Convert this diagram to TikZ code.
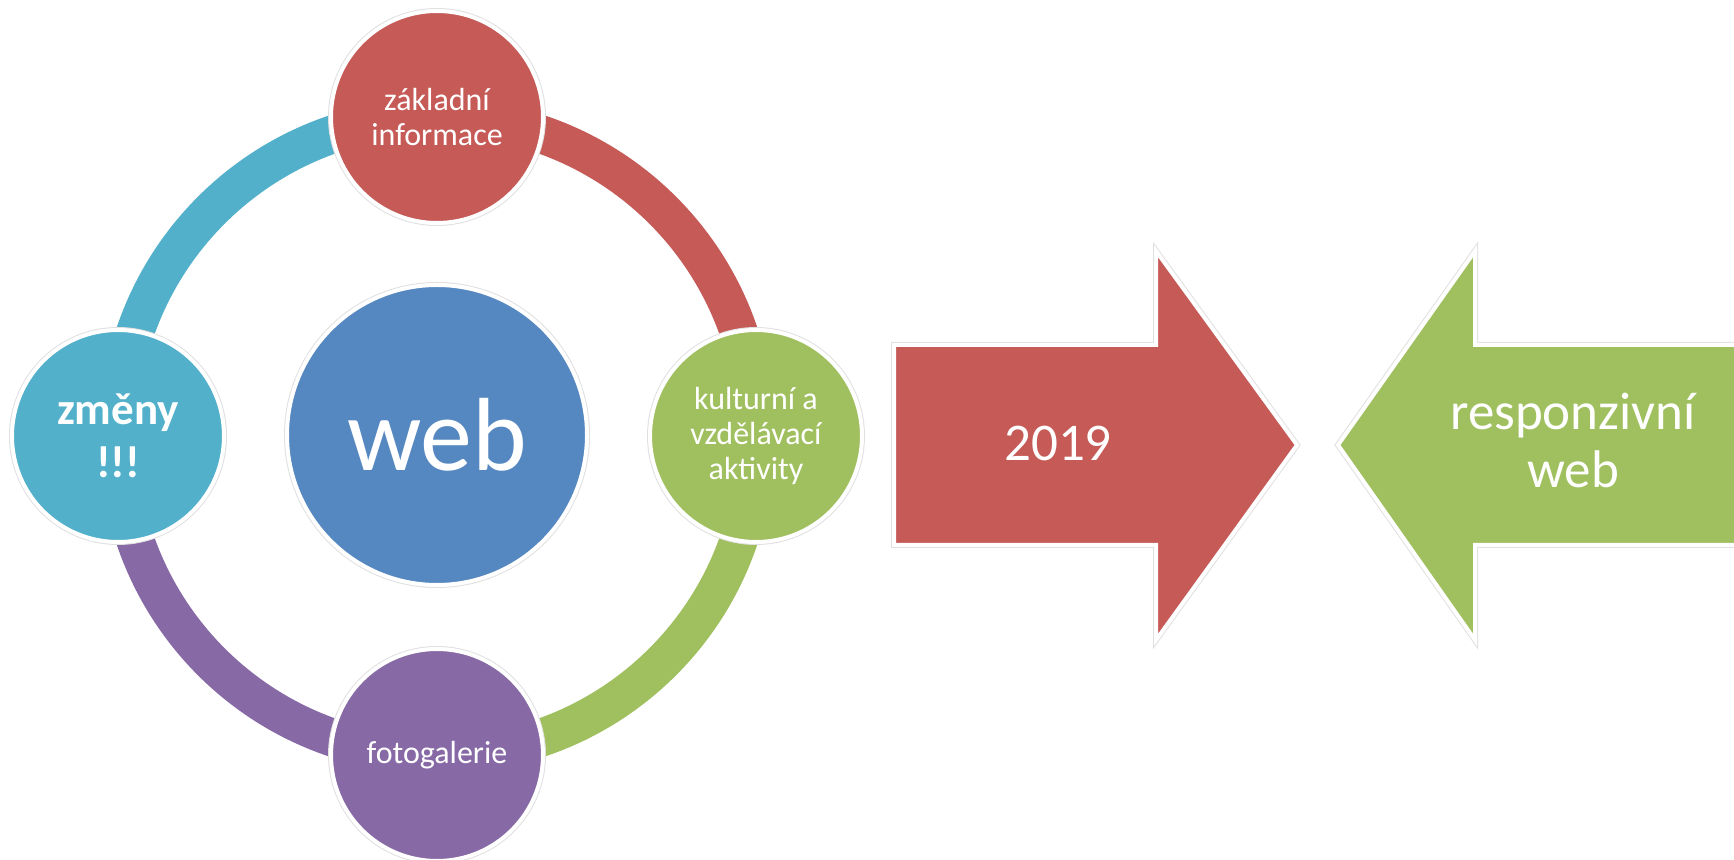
\documentclass[tikz,border=0pt]{standalone}
\usepackage{fontspec}
\setmainfont{Carlito}
\definecolor{cRed}{HTML}{C55A57}
\definecolor{cBlue}{HTML}{5588C1}
\definecolor{cGreen}{HTML}{A0C060}
\definecolor{cPurple}{HTML}{8769A6}
\definecolor{cCyan}{HTML}{52B0CA}
\pgfdeclarelayer{bg}
\pgfsetlayers{bg,main}
\tikzset{
  bub/.style={circle, minimum size=212pt, inner sep=0pt, draw=white, line width=4pt,
    text=white, align=center, font=\fontsize{32}{35}\selectfont,
    preaction={draw=black!12, line width=6pt}},
  ringarc/.style={line width=38pt, line cap=butt},
  bigarrow/.style={draw=white, line width=4pt, line join=miter,
    preaction={draw=black!12, line width=6pt}},
  lbl/.style={text=white, align=center, inner sep=0pt, font=\fontsize{53}{58}\selectfont},
}
\begin{document}
\begin{tikzpicture}[x=1pt,y=1pt]
\useasboundingbox (0,0) rectangle (1734,859);
\clip (0,0) rectangle (1734,859);
% circles
\node[bub, fill=cRed] (top) at (437,742) {základní\\informace};
\node[bub, fill=cGreen] (right) at (756,423) {kulturní a\\vzdělávací\\aktivity};
\node[bub, fill=cPurple] (bottom) at (437,104) {fotogalerie};
\node[bub, fill=cCyan, font=\fontsize{45}{53}\selectfont\bfseries] (left) at (118,423) {změny\\!!!};
\node[bub, fill=cBlue, minimum size=300pt, font=\fontsize{104}{110}\selectfont] (web) at (437,424) {web};
% ring arcs
\begin{pgfonlayer}{bg}
\draw[ringarc, cRed] (top.center) to[out=0, in=90] (right.center);
\draw[ringarc, cGreen] (right.center) to[out=-90, in=0] (bottom.center);
\draw[ringarc, cPurple] (bottom.center) to[out=180, in=-90] (left.center);
\draw[ringarc, cCyan] (left.center) to[out=90, in=180] (top.center);
\end{pgfonlayer}
% arrows
\draw[bigarrow, fill=cRed] (894,514) -- (1156,514) -- (1156,608) -- (1297,414)
  -- (1156,219) -- (1156,314) -- (894,314) -- cycle;
\node[lbl] (y2019) at (1058,415.5) {2019};
\draw[bigarrow, fill=cGreen] (1760,514) -- (1475,514) -- (1475,608) -- (1338,414)
  -- (1475,219) -- (1475,314) -- (1760,314) -- cycle;
\node[lbl] (resp) at (1573,419) {responzivní\\web};
\end{tikzpicture}
\end{document}
